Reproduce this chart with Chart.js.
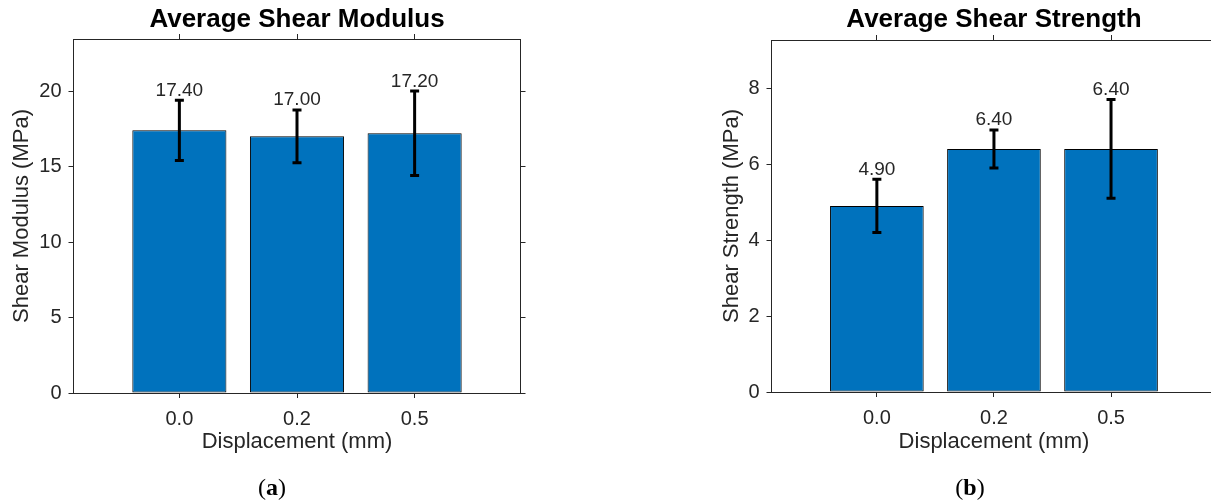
<!DOCTYPE html>
<html>
<head>
<meta charset="utf-8">
<script src="https://cdn.jsdelivr.net/npm/chart.js@4"></script>
<style>
  html, body { margin: 0; padding: 0; background: #fff; width: 1211px; height: 501px; overflow: hidden; }
  .panel { position: absolute; top: 0; height: 501px; }
  .tag { position: absolute; top: 475px; font-family: 'Liberation Serif', serif; font-size: 24px; line-height: 24px; color: #000; transform: translateX(-50%); white-space: nowrap; }
</style>
</head>
<body>
<div class="panel" style="left:0;width:560px"><canvas id="modulusChart"></canvas></div>
<div class="panel" style="left:680px;width:570px"><canvas id="strengthChart"></canvas></div>
<div class="tag" style="left:272px">(<b>a</b>)</div>
<div class="tag" style="left:970px">(<b>b</b>)</div>
<script>
  // data
  const displacements = ["0.0", "0.2", "0.5"];
  const modulusMean = [17.4, 17.0, 17.2];
  const modulusErr = [2.0, 1.75, 2.8];
  const modulusTicks = [0, 5, 10, 15, 20];
  const strengthMean = [4.9, 6.4, 6.4];
  const strengthErr = [0.7, 0.5, 1.3];
  const strengthTicks = [0, 2, 4, 6, 8];

  const FONT = "'Liberation Sans', Arial, sans-serif";
  const BAR_COLOR = "#0072BD";
  const AXIS_COLOR = "#262626";

  // error bars + value labels on top
  const errorBarPlugin = {
    id: "errorBars",
    afterDatasetsDraw(chart, args, opts) {
      const { ctx } = chart;
      const xs = chart.scales.x, ys = chart.scales.y;
      ctx.save();
      opts.means.forEach((m, i) => {
        const px = xs.getPixelForValue(i + 1);
        const top = ys.getPixelForValue(m + opts.errors[i]);
        const bot = ys.getPixelForValue(m - opts.errors[i]);
        ctx.strokeStyle = "#000";
        ctx.lineWidth = 3;
        ctx.lineCap = "butt";
        ctx.beginPath();
        ctx.moveTo(px, top); ctx.lineTo(px, bot);
        ctx.moveTo(px - 4.5, top); ctx.lineTo(px + 4.5, top);
        ctx.moveTo(px - 4.5, bot); ctx.lineTo(px + 4.5, bot);
        ctx.stroke();
        ctx.fillStyle = AXIS_COLOR;
        ctx.font = "19px " + FONT;
        ctx.textAlign = "center";
        ctx.textBaseline = "alphabetic";
        ctx.fillText(m.toFixed(2), px, top - 4.5);
      });
      ctx.restore();
    }
  };

  // pin the axis box sizes so the plot frame lands where the figure has it
  function fixed(size) {
    return scale => {
      if (scale.isHorizontal()) scale.height = size;
      else scale.width = size;
    };
  }

  function buildChart(canvasId, c) {
    const ctx = document.getElementById(canvasId).getContext("2d");
    const xTicks = s => { s.ticks = displacements.map((d, i) => ({ value: i + 1 })); };
    const yTicks = s => { s.ticks = c.ticks.map(v => ({ value: v })); };
    const grid = { drawOnChartArea: false, drawTicks: true, tickLength: 5, color: AXIS_COLOR, offset: false };
    const border = { display: true, color: AXIS_COLOR, width: 1 };
    return new Chart(ctx, {
      type: "bar",
      data: {
        datasets: [{
          data: c.means.map((v, i) => ({ x: i + 1, y: v })),
          backgroundColor: BAR_COLOR,
          borderColor: "#000",
          borderWidth: 1,
          borderSkipped: false,
          barPercentage: 0.8,
          categoryPercentage: 1
        }]
      },
      options: {
        animation: false,
        responsive: true,
        maintainAspectRatio: false,
        layout: { padding: 0 },
        plugins: {
          legend: { display: false },
          tooltip: { enabled: false },
          errorBars: { means: c.means, errors: c.errors }
        },
        scales: {
          x: {
            type: "linear", position: "bottom", min: 0.1, max: 3.9, offset: false,
            afterBuildTicks: xTicks, afterFit: fixed(c.bottom),
            ticks: { color: AXIS_COLOR, font: { family: FONT, size: 20 }, padding: 9, maxRotation: 0,
                     callback: v => displacements[Math.round(v) - 1] },
            grid, border,
            title: { display: true, text: "Displacement (mm)", color: AXIS_COLOR,
                     font: { family: FONT, size: 22 }, padding: { top: 0, bottom: 46 } }
          },
          xTop: {
            type: "linear", position: "top", min: 0.1, max: 3.9, offset: false,
            afterBuildTicks: xTicks, afterFit: fixed(c.top),
            ticks: { display: false },
            grid, border,
            title: { display: true, text: c.title, color: "#000",
                     font: { family: FONT, size: 26, weight: "bold" }, padding: { top: 4, bottom: 0 } }
          },
          y: {
            type: "linear", position: "left", min: 0, max: c.max,
            afterBuildTicks: yTicks, afterFit: fixed(c.left),
            ticks: { color: AXIS_COLOR, font: { family: FONT, size: 20 }, padding: 7 },
            grid, border,
            title: { display: true, text: c.yLabel, color: AXIS_COLOR,
                     font: { family: FONT, size: 22 }, padding: { top: c.yTitlePad, bottom: 0 } }
          },
          yRight: {
            type: "linear", position: "right", min: 0, max: c.max,
            afterBuildTicks: yTicks, afterFit: fixed(c.right),
            ticks: { display: false },
            grid, border
          }
        }
      },
      plugins: [errorBarPlugin]
    });
  }

  buildChart("modulusChart", {
    title: "Average Shear Modulus", yLabel: "Shear Modulus (MPa)",
    means: modulusMean, errors: modulusErr, ticks: modulusTicks, max: 23.45,
    left: 73.5, right: 39.5, top: 39, bottom: 108, yTitlePad: 9
  });

  // right frame edge sits just past the window, as in the figure
  buildChart("strengthChart", {
    title: "Average Shear Strength", yLabel: "Shear Strength (MPa)",
    means: strengthMean, errors: strengthErr, ticks: strengthTicks, max: 9.27,
    left: 91.5, right: 33.6, top: 40, bottom: 109, yTitlePad: 39
  });
</script>
</body>
</html>
